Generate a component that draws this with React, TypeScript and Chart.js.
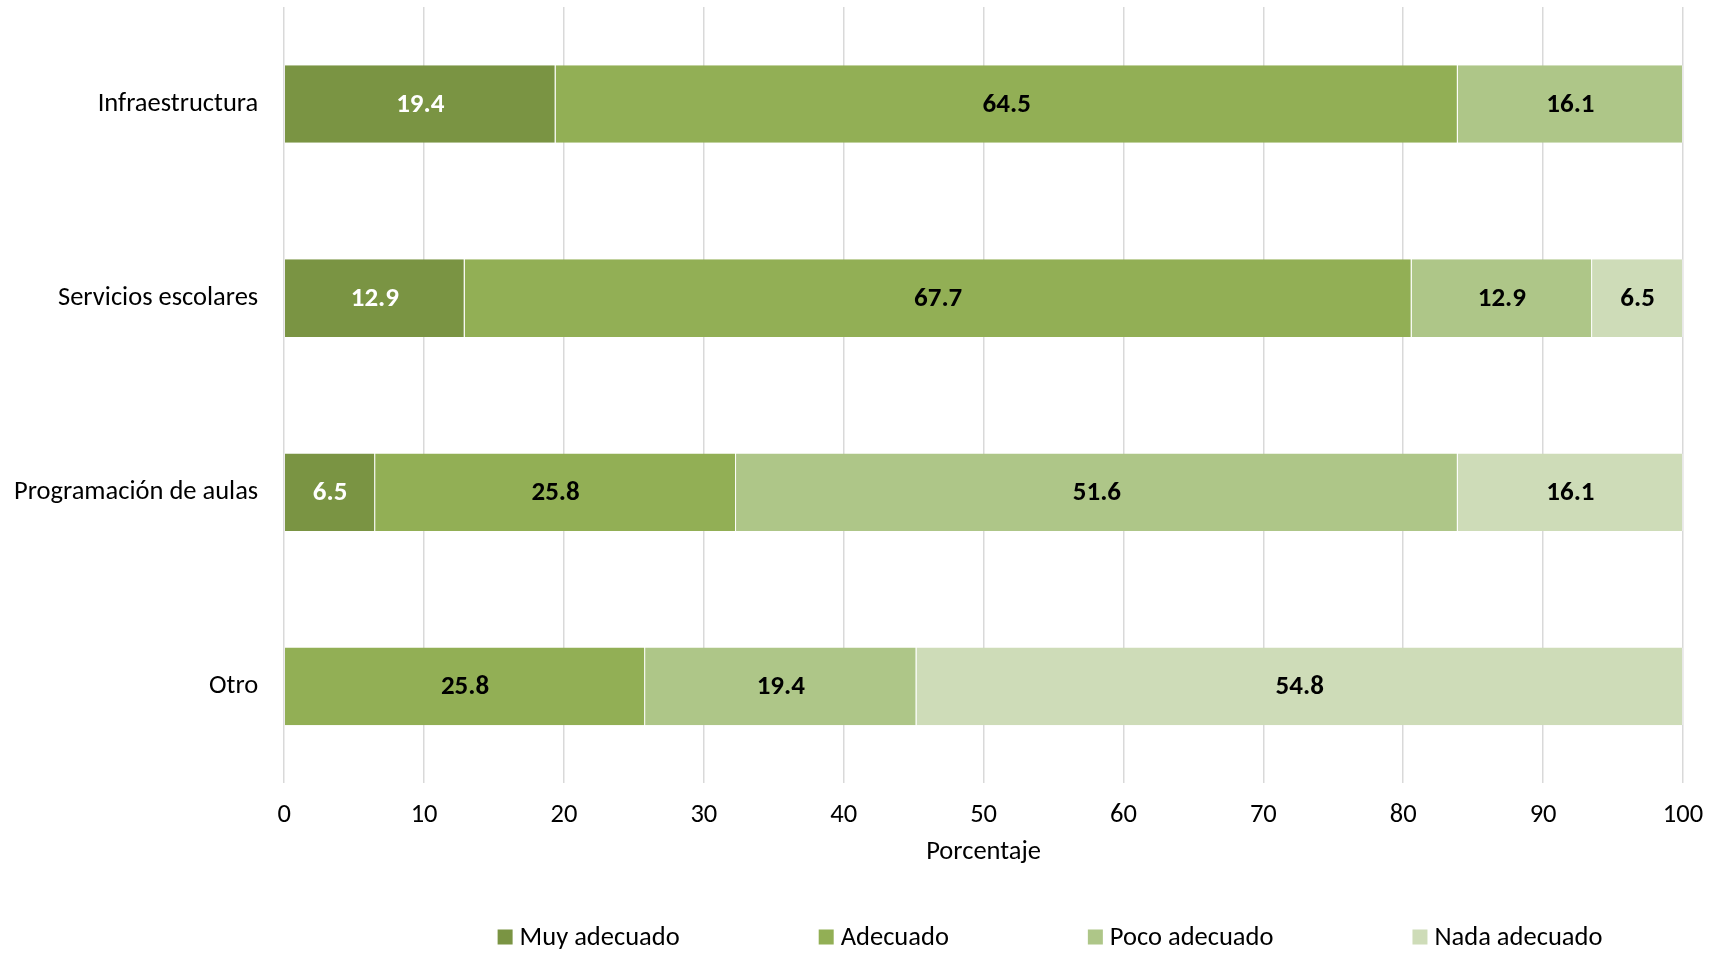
import React, { useEffect, useRef } from "react";
import { Chart, registerables } from "chart.js";

Chart.register(...registerables);

const categories = ["Infraestructura", "Servicios escolares", "Programación de aulas", "Otro"];
const seriesNames = ["Muy adecuado", "Adecuado", "Poco adecuado", "Nada adecuado"];
const muyAdecuado = [19.4, 12.9, 6.5, 0];
const adecuado = [64.5, 67.7, 25.8, 25.8];
const pocoAdecuado = [16.1, 12.9, 51.6, 19.4];
const nadaAdecuado = [0, 6.5, 16.1, 54.8];
const seriesColors = ["#7A9443", "#92AF55", "#AEC688", "#CEDCB8"];
const labelColors = ["#FFFFFF", "#000000", "#000000", "#000000"];
const xTicks = [0, 10, 20, 30, 40, 50, 60, 70, 80, 90, 100];
const xTitle = "Porcentaje";

const FONT = "Calibri, Carlito, Lato, 'Open Sans', sans-serif";
const FS = 26.5;

const dataLabelPlugin = {
  id: "segLabels",
  afterDatasetsDraw(chart: any) {
    const ctx = chart.ctx;
    ctx.save();
    ctx.font = `bold 27px ${FONT}`;
    ctx.textAlign = "center";
    ctx.textBaseline = "middle";
    chart.data.datasets.forEach((ds: any, di: number) => {
      const meta = chart.getDatasetMeta(di);
      meta.data.forEach((el: any, i: number) => {
        const v = ds.data[i];
        if (!v) return;
        ctx.fillStyle = labelColors[di];
        ctx.fillText(v.toFixed(1), (el.x + el.base) / 2, el.y + 1);
      });
    });
    ctx.restore();
  },
};

const legendPlugin = {
  id: "customLegend",
  afterDraw(chart: any) {
    const ctx = chart.ctx;
    ctx.save();
    ctx.font = `${FS}px ${FONT}`;
    ctx.textBaseline = "middle";
    ctx.textAlign = "left";
    const box = 15;
    const gapText = 7;
    const gapItem = 139;
    const widths = seriesNames.map((n) => box + gapText + ctx.measureText(n).width);
    const total = widths.reduce((a, b) => a + b, 0) + gapItem * (widths.length - 1);
    const centerX = 1050;
    const y = 937;
    let x = centerX - total / 2;
    seriesNames.forEach((n, i) => {
      ctx.fillStyle = seriesColors[i];
      ctx.fillRect(x, y - box / 2, box, box);
      ctx.fillStyle = "#000";
      ctx.fillText(n, x + box + gapText, y + 1);
      x += widths[i] + gapItem;
    });
    ctx.restore();
  },
};

export default function App() {
  const ref = useRef<HTMLCanvasElement>(null);
  useEffect(() => {
    const seriesData = [muyAdecuado, adecuado, pocoAdecuado, nadaAdecuado];
    const chart = new Chart(ref.current!, {
      type: "bar",
      data: {
        labels: categories,
        datasets: seriesNames.map((name, i) => ({
          label: name,
          data: seriesData[i],
          backgroundColor: seriesColors[i],
          borderColor: "rgba(255,255,255,0.4)",
          borderWidth: { top: 0, bottom: 0, left: 0, right: 1 },
          borderSkipped: false,
          barPercentage: 0.4,
          categoryPercentage: 1,
        })),
      },
      options: {
        indexAxis: "y",
        animation: false,
        responsive: false,
        maintainAspectRatio: false,
        layout: { padding: { left: -12, right: 38, top: 7, bottom: 82 } },
        plugins: {
          legend: { display: false },
          tooltip: { enabled: false },
        },
        scales: {
          x: {
            stacked: true,
            min: 0,
            max: 100,
            afterBuildTicks: (axis: any) => {
              axis.ticks = xTicks.map((v) => ({ value: v }));
            },
            afterFit: (axis: any) => {
              axis.paddingLeft = 0;
              axis.paddingRight = 0;
            },
            grid: { color: "#D9D9D9", lineWidth: 1.5, drawTicks: false },
            border: { display: false },
            ticks: {
              padding: 16,
              color: "#000",
              font: { family: FONT, size: FS },
            },
            title: {
              display: true,
              text: xTitle,
              color: "#000",
              font: { family: FONT, size: FS },
              padding: { top: -11, bottom: 4 },
            },
          },
          y: {
            stacked: true,
            afterFit: (axis: any) => {
              axis.paddingTop = 0;
              axis.paddingBottom = 0;
            },
            grid: { display: false, drawTicks: false },
            border: { display: false },
            ticks: {
              padding: 26,
              color: "#000",
              font: { family: FONT, size: FS },
            },
          },
        },
      },
      plugins: [dataLabelPlugin, legendPlugin],
    });
    return () => chart.destroy();
  }, []);
  return (
    <div style={{ position: "absolute", left: 0, top: 0, width: 1721, height: 954, background: "#fff" }}>
      <canvas ref={ref} width={1721} height={954} style={{ display: "block" }} />
    </div>
  );
}
